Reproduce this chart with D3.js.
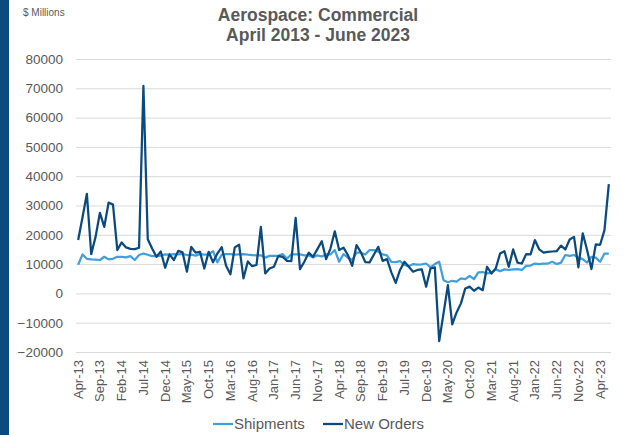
<!DOCTYPE html>
<html>
<head>
<meta charset="utf-8">
<script src="https://cdn.jsdelivr.net/npm/d3@7"></script>
<style>
  html, body { margin: 0; padding: 0; background: #fff; }
  svg { display: block; font-family: "Liberation Sans", Arial, sans-serif; }
</style>
</head>
<body>
<svg id="chart" width="624" height="435"></svg>
<script>
// ---- Data ----
const startMonth = new Date(2013, 3, 1);   // Apr 2013
const endMonth = new Date(2023, 6, 1);     // exclusive -> last is Jun 2023
const categories = d3.timeMonth.range(startMonth, endMonth).map(d3.timeFormat("%b-%y"));

const shipments = [
  9800, 13300, 11800, 11600, 11500, 11400, 12500, 11600, 11800, 12500,
  12500, 12300, 12700, 11400, 13100, 13600, 13200, 12700, 12700, 12900,
  13300, 13200, 13400, 13300, 13500, 13100, 13200, 12900, 13400, 13200,
  13300, 14400, 10600, 13200, 13400, 13400, 13200, 13300, 13400, 13200,
  13100, 13000, 13000, 12200, 12800, 12800, 12800, 13400, 11900, 13300,
  13300, 13300, 13000, 13000, 12300, 13000, 12600, 13300, 13300, 14800,
  10800, 13400, 12200, 11400, 13900, 13900, 13300, 14800, 14800, 14200,
  13300, 13000, 10800, 10700, 11000, 9700, 9300, 10000, 9800, 9900,
  10200, 8900, 10000, 10800, 4500, 3800, 4300, 4000, 5100, 4900,
  6000, 4900, 7200, 7300, 6800, 7000, 8200, 7600, 8200, 8000,
  8200, 8300, 8000, 9400, 9500, 10200, 10000, 10200, 10200, 10800,
  10000, 10500, 13100, 12800, 13100, 12200, 11700, 10500, 12500, 12200,
  10800, 13600, 13600
];

const newOrders = [
  18200, 26000, 34000, 13400, 19300, 27500, 22700, 31000, 30300, 14800,
  17400, 15700, 15200, 15100, 15600, 70800, 18500, 15300, 12500, 14300,
  8750, 13300, 11400, 14500, 14000, 7400, 15900, 13900, 14200, 8500,
  14200, 10600, 13600, 15800, 9400, 6500, 15700, 16600, 5100, 10900,
  9300, 9700, 22700, 6800, 8500, 9100, 12700, 12500, 11100, 11000,
  25800, 8300, 10800, 13900, 12500, 15100, 17800, 11700, 15300, 21200,
  14800, 15600, 13100, 9400, 16500, 14000, 10700, 10600, 13300, 15900,
  11100, 11700, 7200, 3600, 8000, 10800, 9100, 7400, 8000, 8200,
  2300, 8500, 8900, -16300, -6800, 2800, -10600, -6500, -3400, 1700,
  2300, 900, 2000, 1100, 9100, 6800, 8500, 13600, 14400, 9100,
  15000, 10500, 10200, 13400, 13300, 18200, 15000, 13900, 14200, 14300,
  14400, 16300, 15000, 18400, 19300, 8900, 20500, 14800, 8300, 16700,
  16600, 21600, 37300
];

const yTicks = [-20000, -10000, 0, 10000, 20000, 30000, 40000, 50000, 60000, 70000, 80000];
const xTickLabels = ["Apr-13","Sep-13","Feb-14","Jul-14","Dec-14","May-15","Oct-15","Mar-16",
  "Aug-16","Jan-17","Jun-17","Nov-17","Apr-18","Sep-18","Feb-19","Jul-19","Dec-19","May-20",
  "Oct-20","Mar-21","Aug-21","Jan-22","Jun-22","Nov-22","Apr-23"];

const seriesList = [
  { name: "Shipments", values: shipments, color: "#41A0DC" },
  { name: "New Orders", values: newOrders, color: "#0B4A7D" }
];

// ---- Layout ----
const svg = d3.select("#chart");
const pL = 76, pR = 611, pT = 59, pB = 352;
const textColor = "#595959";

// left accent bar
svg.append("rect").attr("x", 0).attr("y", 0).attr("width", 9).attr("height", 435).attr("fill", "#0B4A7D");

const x = d3.scaleBand().domain(categories).range([pL, pR]).padding(0);
const y = d3.scaleLinear().domain([-20000, 80000]).range([pB, pT]);

// y axis with gridlines
const yAxis = svg.append("g")
  .attr("transform", `translate(${pL},0)`)
  .call(d3.axisLeft(y).tickValues(yTicks).tickSize(-(pR - pL)).tickPadding(13).tickFormat(d3.format("d")));
yAxis.select(".domain").remove();
yAxis.selectAll(".tick line").attr("stroke", "#D9D9D9").attr("stroke-width", 1);
yAxis.selectAll(".tick text").attr("fill", textColor).style("font-size", "13.5px")
  .style("font-family", "'Liberation Sans', Arial, sans-serif");

// x axis labels
const xAxis = svg.append("g")
  .attr("transform", `translate(0,${pB})`)
  .call(d3.axisBottom(x).tickValues(xTickLabels).tickSize(0).tickPadding(0));
xAxis.select(".domain").remove();
xAxis.selectAll(".tick text")
  .attr("fill", textColor)
  .style("font-size", "13px")
  .style("font-family", "'Liberation Sans', Arial, sans-serif")
  .attr("text-anchor", "end")
  .attr("transform", "rotate(-90)")
  .attr("x", -8)
  .attr("y", 0)
  .attr("dy", "0.35em");

// lines
const cx = (c) => x(c) + x.bandwidth() / 2;
seriesList.forEach(s => {
  const line = d3.line()
    .x((d, i) => cx(categories[i]))
    .y(d => y(d));
  svg.append("path")
    .datum(s.values)
    .attr("fill", "none")
    .attr("stroke", s.color)
    .attr("stroke-width", 2.25)
    .attr("stroke-linejoin", "round")
    .attr("d", line);
});

// title
const title = svg.append("text").attr("text-anchor", "middle").attr("fill", textColor)
  .style("font-size", "17.5px").style("font-weight", "bold");
title.append("tspan").attr("x", 318).attr("y", 21).text("Aerospace: Commercial");
title.append("tspan").attr("x", 318).attr("y", 41).text("April 2013 - June 2023");

// units label
svg.append("text").attr("x", 23).attr("y", 16).attr("fill", textColor)
  .style("font-size", "10px").text("$ Millions");

// legend
const legendItems = [
  { name: "Shipments", color: "#41A0DC", x: 213 },
  { name: "New Orders", color: "#0B4A7D", x: 323 }
];
const lg = svg.append("g");
legendItems.forEach(it => {
  lg.append("line").attr("x1", it.x).attr("x2", it.x + 20).attr("y1", 424).attr("y2", 424)
    .attr("stroke", it.color).attr("stroke-width", 2.25);
  lg.append("text").attr("x", it.x + 21).attr("y", 424).attr("dy", "0.35em")
    .attr("fill", textColor).style("font-size", "15px").text(it.name);
});
</script>
</body>
</html>
